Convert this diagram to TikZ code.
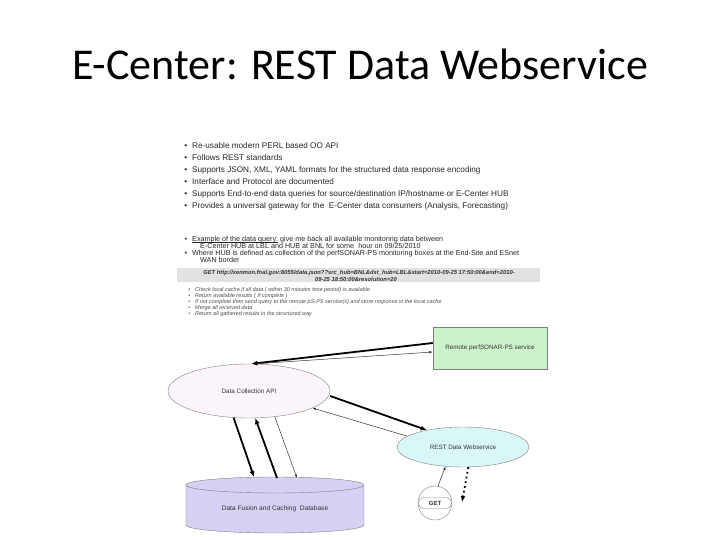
\documentclass[tikz,border=0pt]{standalone}
\usepackage{fontspec}
\setmainfont{Liberation Sans}
\newfontfamily\titlefont{Carlito}
\usetikzlibrary{arrows.meta, calc, shapes.geometric}
\definecolor{remotegreen}{HTML}{CCF2CC}
\definecolor{apipink}{HTML}{FBF4FB}
\definecolor{restcyan}{HTML}{D9F7F7}
\definecolor{dblilac}{HTML}{D4D1F2}
\definecolor{urlgray}{HTML}{E2E2E2}
\definecolor{edgegray}{HTML}{808080}
\newcommand*\itm[1]{\llap{\textbullet\hspace{5pt}}#1}
\newcommand*\ulin[1]{\setbox0\hbox{#1}\rlap{\rule[-1.1pt]{\wd0}{0.35pt}}\box0\relax}

\begin{document}
\begin{tikzpicture}[x=1pt, y=-1pt,
    bigtxt/.style={anchor=mid west, inner sep=0pt, text=black!85, font=\fontsize{8.2}{9}\selectfont},
    midtxt/.style={anchor=mid west, inner sep=0pt, text=black!85, font=\fontsize{7.2}{8}\selectfont},
    urltxt/.style={anchor=mid, inner sep=0pt, text=black!80, font=\fontsize{5.8}{6}\selectfont\bfseries\itshape},
    smalltxt/.style={anchor=mid west, inner sep=0pt, text=black!70, font=\fontsize{5.5}{6}\selectfont\itshape},
    boxtxt/.style={font=\fontsize{6.3}{7}\selectfont, text=black!80},
    thickarrow/.style={line width=1.8pt, -{Latex[length=6pt, width=5pt]}},
    thinarrow/.style={line width=0.5pt, black!80, -{Latex[length=3.5pt, width=2.5pt]}}
]
    \useasboundingbox (0,0) rectangle (720,540);

    % title
    \node[anchor=base, inner sep=0pt, font=\titlefont\fontsize{44}{48}\selectfont] (title) at (360,80) {E-Center: REST Data Webservice};

    % features
    \node[bigtxt] (f1) at (192,146) {\itm{Re-usable modern PERL based OO API}};
    \node[bigtxt] (f2) at (192,158) {\itm{Follows REST standards}};
    \node[bigtxt] (f3) at (192,170) {\itm{Supports JSON, XML, YAML formats for the structured data response encoding}};
    \node[bigtxt] (f4) at (192,182) {\itm{Interface and Protocol are documented}};
    \node[bigtxt] (f5) at (192,194) {\itm{Supports End-to-end data queries for source/destination IP/hostname or E-Center HUB}};
    \node[bigtxt] (f6) at (192,206) {\itm{Provides a universal gateway for the \ E-Center data consumers (Analysis, Forecasting)}};

    % example query
    \node[midtxt] (q1) at (192,239) {\itm{\ulin{Example of the data query:} give me back all available monitoring data between}};
    \node[midtxt] (q2) at (200,246) {E-Center HUB at LBL and HUB at BNL for some \ hour on 09/25/2010};
    \node[midtxt] (q3) at (192,253) {\itm{Where HUB is defined as collection of the perfSONAR-PS monitoring boxes at the End-Site and ESnet}};
    \node[midtxt] (q4) at (200,260) {WAN border};

    \fill[urlgray] (177,268) rectangle (540,282);
    \node[urltxt] (url1) at (359,272) {GET http://xenmon.fnal.gov:8055/data.json??src\_hub=BNL\&dst\_hub=LBL\&start=2010-09-25 17:50:00\&end=2010-};
    \node[urltxt] (url2) at (356,279) {09-25 18:50:00\&resolution=20};

    \node[smalltxt] (s1) at (195,289) {\itm{Check local cache if all data ( within 30 minutes time period) is available}};
    \node[smalltxt] (s2) at (195,295) {\itm{Return available results ( if complete )}};
    \node[smalltxt] (s3) at (195,301) {\itm{If not complete then send query to the remote pS-PS service(s) and store response in the local cache}};
    \node[smalltxt] (s4) at (195,307) {\itm{Merge all received data}};
    \node[smalltxt] (s5) at (195,312.5) {\itm{Return all gathered results in the structured way}};

    % diagram
    \node[boxtxt, draw=edgegray, fill=remotegreen, minimum width=114pt, minimum height=42pt] (remote) at (490,348) {Remote perfSONAR-PS service};
    \node[boxtxt, ellipse, draw=edgegray, fill=apipink, minimum width=162pt, minimum height=54pt, inner sep=0pt] (api) at (249,391) {Data Collection API};
    \node[boxtxt, ellipse, draw=edgegray, fill=restcyan, minimum width=132pt, minimum height=40pt, inner sep=0pt] (rest) at (463,447) {REST Data Webservice};

    \draw[edgegray, fill=dblilac] (186,485) -- (186,525) arc[start angle=180, end angle=360, x radius=89pt, y radius=8pt] -- (364,485);
    \draw[edgegray, fill=dblilac] (275,485) ellipse[x radius=89pt, y radius=8pt];
    \node[boxtxt, font=\fontsize{6.6}{7}\selectfont] (db) at (275,509) {Data Fusion and Caching \ Database};
    \coordinate (dbin) at (254,477);
    \coordinate (dbout) at (277,478);
    \coordinate (dbthin) at (297,478);

    \node[circle, draw=edgegray, fill=white, minimum size=34pt, inner sep=0pt] (getball) at (435,503) {};
    \node[draw=edgegray, rounded corners=5pt, minimum width=33pt, minimum height=11pt, inner sep=0pt, font=\fontsize{6}{7}\selectfont\bfseries, text=black!80] (get) at (getball.center) {GET};
    \coordinate (answer) at (462,502);

    \draw[thickarrow] ($(remote.west)+(0,-5)$) -- (api.85);
    \draw[thinarrow] (api.78) -- ($(remote.west)+(0,4)$);
    \draw[thickarrow] (api.east) ++(0,5) -- (rest.155);
    \draw[thinarrow] (rest.169) -- (api.-15);
    \draw[thickarrow] (api.-120) -- (dbin);
    \draw[thickarrow] (dbout) -- (api.-77);
    \draw[thinarrow] (api.-45) -- (dbthin);
    \draw[thinarrow] (getball.80) -- (rest.-132);
    \draw[line width=1.8pt, dash pattern=on 1.8pt off 3pt, -{Latex[length=6pt, width=5pt]}] (rest.-75) -- (answer);
\end{tikzpicture}
\end{document}
